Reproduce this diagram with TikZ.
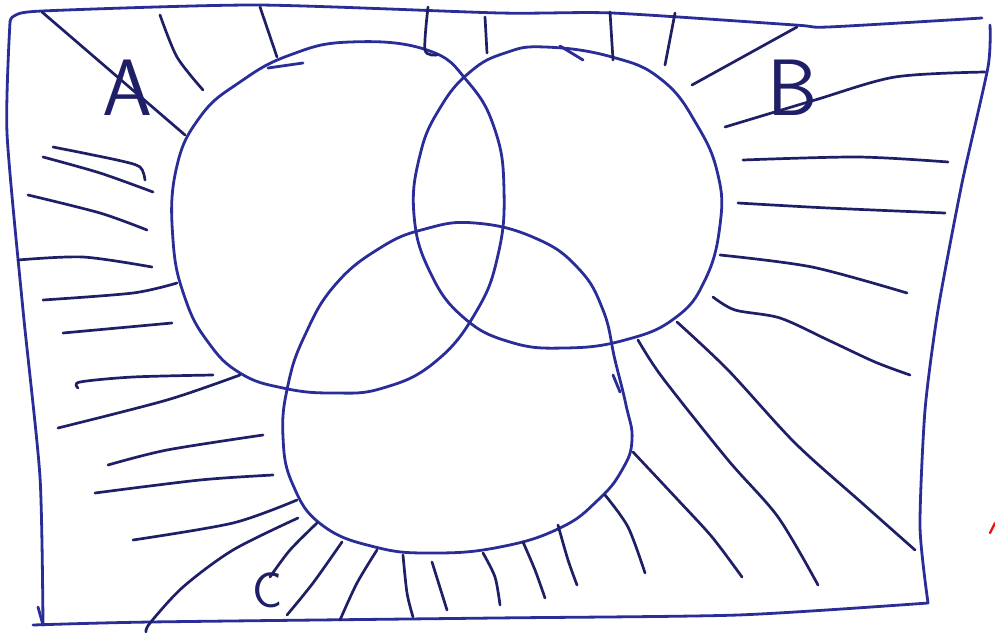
\documentclass[tikz,border=0pt]{standalone}
\usepackage{fontspec}
\definecolor{inkBlue}{HTML}{2A2C98}
\definecolor{inkDark}{HTML}{1E1F66}
\definecolor{inkRed}{HTML}{F01010}

\begin{document}
\begin{tikzpicture}[
  x=1pt, y=-1pt,
  frame/.style={draw=inkBlue, line width=2.8pt, line cap=round, line join=round},
  venn/.style={draw=inkBlue, line width=2.8pt, line cap=round},
  hatch/.style={draw=inkDark, line width=2.7pt, line cap=round},
  setlabel/.style={text=inkDark, font=\sffamily\fontsize{80}{80}\selectfont, inner sep=0pt}
]
\useasboundingbox (0,0) rectangle (995,632);

% frame
\draw[frame] plot[smooth, tension=0.4] coordinates {(10,22) (14,16) (42,11) (257,5) (500,13) (612,13) (795,25) (828,27) (982,18)};
\draw[frame] plot[smooth, tension=0.4] coordinates {(990,25) (988,67) (962,183) (938,310) (925,410) (920,527) (928,603)};
\draw[frame] plot[smooth, tension=0.4] coordinates {(928,603) (738,615) (495,618) (150,622) (33,625)};
\draw[frame] plot[smooth, tension=0.4] coordinates {(43,625) (40,477) (23,310) (7,133) (10,22)};
\draw[frame] (38,607) -- (43,625);

% three sets
\draw[venn] plot[smooth cycle, tension=0.75] coordinates {(350,42) (427,50) (468,82) (495,130) (504,190) (498,255) (476,312) (435,362) (383,388) (333,393) (283,388) (240,373) (208,342) (185,298) (173,240) (176,170) (200,117) (240,82) (290,55)};
\draw[venn] plot[smooth cycle, tension=0.75] coordinates {(545,47) (612,57) (662,80) (697,125) (718,175) (720,225) (705,280) (675,318) (625,340) (565,348) (510,342) (463,317) (430,272) (414,215) (420,155) (440,108) (470,72) (505,53)};
\draw[venn] plot[smooth cycle, tension=0.75] coordinates {(475,223) (535,238) (578,268) (603,310) (615,360) (626,405) (632,440) (622,470) (598,500) (560,528) (500,547) (433,553) (375,547) (322,525) (293,485) (283,437) (288,385) (305,335) (335,285) (380,248) (425,229)};
\draw[venn] (268,68) -- (303,63);
\draw[venn] (560,46) -- (583,60);
\draw[venn] (613,375) -- (620,392);

% hatching outside the sets
\draw[hatch] (42,12) -- (185,135);
\draw[hatch] plot[smooth] coordinates {(160,15) (177,57) (203,90)};
\draw[hatch] (260,7) -- (277,57);
\draw[hatch] plot[smooth] coordinates {(428,7) (425,50) (437,55)};
\draw[hatch] (485,17) -- (487,53);
\draw[hatch] (610,12) -- (613,60);
\draw[hatch] (675,13) -- (665,65);
\draw[hatch] (692,85) -- (797,27);
\draw[hatch] plot[smooth] coordinates {(725,127) (815,100) (895,77) (985,72)};
\draw[hatch] plot[smooth] coordinates {(743,160) (858,157) (948,162)};
\draw[hatch] plot[smooth] coordinates {(738,203) (828,208) (945,213)};
\draw[hatch] plot[smooth] coordinates {(720,255) (812,267) (907,293)};
\draw[hatch] plot[smooth] coordinates {(713,297) (735,310) (780,318) (828,340) (875,362) (910,375)};
\draw[hatch] plot[smooth] coordinates {(677,322) (728,370) (795,443) (862,503) (915,550)};
\draw[hatch] plot[smooth] coordinates {(638,340) (662,377) (728,460) (778,517) (818,585)};
\draw[hatch] plot[smooth] coordinates {(633,452) (678,500) (712,537) (742,577)};
\draw[hatch] plot[smooth] coordinates {(605,495) (628,527) (645,573)};
\draw[hatch] plot[smooth] coordinates {(558,525) (568,560) (577,585)};
\draw[hatch] plot[smooth] coordinates {(523,542) (535,570) (545,598)};
\draw[hatch] plot[smooth] coordinates {(483,553) (495,577) (500,605)};
\draw[hatch] (432,562) -- (447,610);
\draw[hatch] plot[smooth] coordinates {(403,555) (407,593) (413,617)};
\draw[hatch] plot[smooth] coordinates {(377,550) (357,583) (340,620)};
\draw[hatch] plot[smooth] coordinates {(342,542) (313,583) (287,615)};
\draw[hatch] plot[smooth] coordinates {(317,523) (290,550) (270,577)};
\draw[hatch] plot[smooth] coordinates {(298,518) (233,550) (183,587) (150,623) (146,632)};
\draw[hatch] plot[smooth] coordinates {(297,500) (233,523) (133,540)};
\draw[hatch] plot[smooth] coordinates {(273,475) (200,480) (95,493)};
\draw[hatch] plot[smooth] coordinates {(263,435) (167,450) (108,465)};
\draw[hatch] plot[smooth] coordinates {(240,375) (167,400) (58,428)};
\draw[hatch] plot[smooth] coordinates {(213,375) (133,377) (80,382) (78,388)};
\draw[hatch] (172,323) -- (63,333);
\draw[hatch] plot[smooth] coordinates {(177,283) (133,293) (43,300)};
\draw[hatch] plot[smooth] coordinates {(18,260) (83,257) (152,267)};
\draw[hatch] plot[smooth] coordinates {(28,195) (100,213) (147,230)};
\draw[hatch] plot[smooth] coordinates {(43,157) (100,173) (153,192)};
\draw[hatch] plot[smooth] coordinates {(53,147) (117,160) (140,167) (145,180)};

% set names
\node[setlabel] (labelA) at (127,88) {A};
\node[setlabel] (labelB) at (793,88) {B};
\node[setlabel, font=\sffamily\fontsize{50}{50}\selectfont] (labelC) at (268,590) {C};

% red pen mark
\draw[draw=inkRed, line width=2.4pt, line cap=round] (990,533) -- (995,523);
\end{tikzpicture}
\end{document}
